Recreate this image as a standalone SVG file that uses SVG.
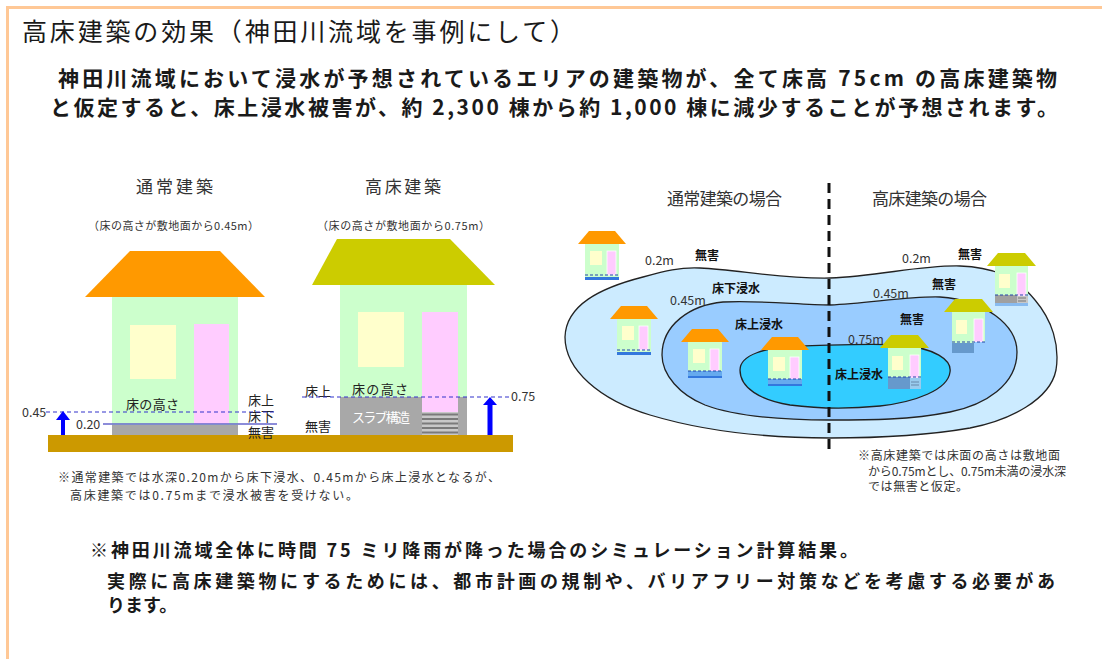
<svg xmlns="http://www.w3.org/2000/svg" width="1102" height="659" viewBox="0 0 1102 659">
  <style>
    text { font-family: "Noto Sans CJK JP", "Noto Sans", sans-serif; fill: #1a1a1a; }
    .title { font-size: 25px; }
    .lead { font-size: 21px; font-weight: bold; }
    .head { font-size: 17px; fill: #333; }
    .sub { font-size: 11px; fill: #333; }
    .lbl { font-size: 13px; fill: #222; }
    .num { font-size: 12.5px; fill: #333; }
    .note { font-size: 12px; fill: #333; }
    .zone { font-size: 12px; font-weight: bold; fill: #111; }
    .foot { font-size: 18px; font-weight: bold; }
    .wall { fill: #CCFFCC; }
    .win { fill: #FFFFCC; }
    .door { fill: #FFCCFF; }
    .slab { fill: #A8A8A8; }
    .roofO { fill: #FF9900; }
    .roofY { fill: #CCCC00; }
    .lvl { stroke: #3333CC; stroke-width: 1.2; stroke-dasharray: 4 3; fill: none; }
    .lvlS { stroke: #6666CC; stroke-width: 1.4; fill: none; }
    .contour { stroke: #222; stroke-width: 1.3; }
    .wl { stroke: #2244AA; stroke-width: 1.2; stroke-dasharray: 3 2; fill: none; }
  </style>

  <defs>
    <!-- small house, orange roof (ordinary floor) -->
    <g id="hutO">
      <polygon class="roofO" points="-7,0 41,0 30,-13 4,-13"/>
      <rect class="wall" x="0" y="0" width="34" height="35"/>
      <rect class="win" x="5" y="7" width="12" height="14"/>
      <rect class="door" x="22" y="7" width="9" height="24" stroke="#fff" stroke-width="0.8"/>
    </g>
    <!-- small house, olive roof (raised floor) -->
    <g id="hutY">
      <polygon class="roofY" points="-8,0 41,0 30,-13 3,-13"/>
      <rect class="wall" x="0" y="0" width="33" height="40"/>
      <rect class="win" x="4" y="8" width="11" height="14"/>
      <rect class="door" x="22" y="7" width="9" height="23" stroke="#fff" stroke-width="0.8"/>
    </g>
  </defs>

  <rect x="0" y="0" width="1102" height="659" fill="#fff"/>
  <!-- frame -->
  <path d="M7.5,659 V7.5 H1102" fill="none" stroke="#FFC896" stroke-width="3"/>

  <!-- heading and lead -->
  <text class="title" x="22" y="41" textLength="553" lengthAdjust="spacing">高床建築の効果（神田川流域を事例にして）</text>
  <text class="lead" x="58" y="86" textLength="999" lengthAdjust="spacing">神田川流域において浸水が予想されているエリアの建築物が、全て床高 75cm の高床建築物</text>
  <text class="lead" x="50" y="115" textLength="1008" lengthAdjust="spacing">と仮定すると、床上浸水被害が、約 2,300 棟から約 1,000 棟に減少することが予想されます。</text>

  <!-- cross-section: ground -->
  <rect id="ground" x="48" y="435" width="465" height="17" fill="#CC9900"/>

  <!-- ordinary building -->
  <g id="house-normal">
    <text class="head" x="136" y="193" textLength="77" lengthAdjust="spacing">通常建築</text>
    <text class="sub" x="88" y="230" textLength="171" lengthAdjust="spacing">（床の高さが敷地面から0.45m）</text>
    <polygon class="roofO" points="130,251 220,251 265,297 85,297"/>
    <rect class="wall" x="112" y="297" width="126" height="138"/>
    <rect class="win" x="130" y="325" width="46" height="54"/>
    <rect class="door" x="194" y="324" width="35" height="100"/>
    <rect class="slab" x="112" y="425" width="126" height="10"/>
    <text class="lbl" x="126" y="409" font-size="15" textLength="53" lengthAdjust="spacing">床の高さ</text>
    <text class="lbl" x="248" y="405" font-size="9.5">床上</text>
    <text class="lbl" x="248" y="421" font-size="9.5">床下</text>
    <text class="lbl" x="248" y="437" font-size="9.5">無害</text>
  </g>

  <!-- raised-floor building -->
  <g id="house-raised">
    <text class="head" x="365" y="193" textLength="76" lengthAdjust="spacing">高床建築</text>
    <text class="sub" x="317" y="230" textLength="173" lengthAdjust="spacing">（床の高さが敷地面から0.75m）</text>
    <polygon class="roofY" points="337,239 450,239 495,285 312,285"/>
    <rect class="wall" x="340" y="285" width="127" height="150"/>
    <rect class="win" x="358" y="312" width="46" height="55"/>
    <rect class="door" x="422" y="312" width="36" height="100"/>
    <rect class="slab" x="340" y="397" width="82" height="38"/>
    <rect class="slab" x="458" y="397" width="9" height="38"/>
    <rect x="422" y="412" width="36" height="23" fill="#C8C8C8"/>
    <g stroke="#7a7a7a" stroke-width="2">
      <line x1="422" y1="414.5" x2="458" y2="414.5"/>
      <line x1="422" y1="419" x2="458" y2="419"/>
      <line x1="422" y1="423.5" x2="458" y2="423.5"/>
      <line x1="422" y1="428" x2="458" y2="428"/>
      <line x1="422" y1="432.5" x2="458" y2="432.5"/>
    </g>
    <text x="352" y="422" font-size="13" style="fill:#fff" textLength="58" lengthAdjust="spacing">スラブ構造</text>
    <text class="lbl" x="352" y="394" font-size="16" textLength="56" lengthAdjust="spacing">床の高さ</text>
    <text class="lbl" x="305" y="396">床上</text>
    <text class="lbl" x="305" y="431">無害</text>
  </g>

  <!-- water level lines and rise arrows -->
  <g id="connectors">
    <line class="lvl" x1="46" y1="412" x2="276" y2="412"/>
    <line class="lvlS" x1="103" y1="424" x2="277" y2="424"/>
    <line class="lvl" x1="302" y1="397" x2="509" y2="397"/>
    <rect x="61" y="419" width="4" height="16" fill="#0000FF"/>
    <polygon points="56,420 70,420 63,411" fill="#0000FF"/>
    <rect x="487.5" y="404" width="5" height="31" fill="#0000FF"/>
    <polygon points="483,405 497,405 490,397" fill="#0000FF"/>
  </g>
  <text class="num" x="22" y="417">0.45</text>
  <text class="num" x="76" y="429">0.20</text>
  <text class="num" x="511" y="401">0.75</text>

  <text class="note" x="58" y="482" textLength="442" lengthAdjust="spacing">※通常建築では水深0.20mから床下浸水、0.45mから床上浸水となるが、</text>
  <text class="note" x="70" y="500" textLength="288" lengthAdjust="spacing">高床建築では0.75mまで浸水被害を受けない。</text>

  <!-- flood map -->
  <g id="flood-zones">
    <path id="zone-outer" class="contour" fill="#CCEBFF" d="M565,337 C566,305 600,288 643,277 C665,271 680,267 700,268 C740,270 780,279 830,278 C880,276 920,265 960,266 C990,267 1015,275 1035,300 C1052,320 1060,345 1056,370 C1050,400 1010,420 970,428 C930,435 880,438 830,438 C760,438 700,430 650,415 C600,400 565,370 565,337 Z"/>
    <path id="zone-middle" class="contour" fill="#99CCFF" d="M662,355 C662,325 690,305 723,302 C760,300 800,305 830,305 C870,303 910,296 940,297 C985,300 1017,325 1017,352 C1017,385 985,405 950,412 C910,420 870,420 830,420 C790,420 740,418 705,405 C680,395 662,375 662,355 Z"/>
    <path id="zone-inner" class="contour" fill="#33CCFF" d="M740,370 C740,355 765,347 800,346 C840,345 870,343 900,345 C935,348 952,360 950,372 C948,390 915,402 880,406 C850,409 820,409 790,405 C760,400 740,388 740,370 Z"/>
  </g>

  <text class="head" x="667" y="205" font-size="16" textLength="115" lengthAdjust="spacing">通常建築の場合</text>
  <text class="head" x="872" y="205" font-size="16" textLength="115" lengthAdjust="spacing">高床建築の場合</text>

  <!-- map labels -->
  <text class="num" x="645" y="265">0.2m</text>
  <text class="zone" x="695" y="260" font-size="11">無害</text>
  <text class="zone" x="712" y="293" font-size="11">床下浸水</text>
  <text class="num" x="670" y="305">0.45m</text>
  <text class="zone" x="735" y="329" font-size="13">床上浸水</text>
  <text class="num" x="902" y="263">0.2m</text>
  <text class="zone" x="958" y="259">無害</text>
  <text class="zone" x="932" y="289">無害</text>
  <text class="num" x="873" y="298">0.45m</text>
  <text class="zone" x="900" y="324">無害</text>
  <text class="num" x="848" y="344">0.75m</text>
  <text class="zone" x="835" y="379" font-size="13">床上浸水</text>

  <!-- small ordinary houses -->
  <g id="hut-a" transform="translate(585,244)">
    <use href="#hutO"/>
    <line class="wl" x1="0" y1="31" x2="34" y2="31"/>
    <rect x="0" y="33" width="34" height="3" fill="#3377DD"/>
  </g>
  <g id="hut-b" transform="translate(617,319)">
    <use href="#hutO"/>
    <line class="wl" x1="0" y1="31" x2="34" y2="31"/>
    <rect x="0" y="33" width="34" height="3" fill="#3377DD"/>
  </g>
  <g id="hut-c" transform="translate(688,342)">
    <use href="#hutO"/>
    <rect x="0" y="29" width="34" height="7" fill="#66AAEE"/>
    <line class="wl" x1="0" y1="29" x2="34" y2="29"/>
    <rect x="0" y="34" width="34" height="2" fill="#3377DD"/>
  </g>
  <g id="hut-d" transform="translate(768,350)">
    <use href="#hutO"/>
    <rect x="0" y="29" width="34" height="7" fill="#66AAEE"/>
    <line class="wl" x1="0" y1="29" x2="34" y2="29"/>
    <rect x="0" y="34" width="34" height="2" fill="#3377DD"/>
  </g>

  <!-- small raised-floor houses -->
  <g id="hut-e" transform="translate(995,266)">
    <use href="#hutY"/>
    <rect x="0" y="29" width="22" height="8" fill="#A0A0A0"/>
    <rect x="22" y="30" width="11" height="7" fill="#C8C8C8"/>
    <line x1="23" y1="32" x2="31" y2="32" stroke="#777" stroke-width="1"/>
    <line x1="23" y1="35" x2="31" y2="35" stroke="#777" stroke-width="1"/>
    <line class="wl" x1="0" y1="29" x2="33" y2="29"/>
    <rect x="0" y="37" width="33" height="3" fill="#88BBF0"/>
  </g>
  <g id="hut-f" transform="translate(952,312)">
    <use href="#hutY"/>
    <rect x="0" y="31" width="22" height="10" fill="#6699CC"/>
    <rect x="22" y="30" width="11" height="11" fill="#99CCFF"/>
    <line class="wl" x1="0" y1="30" x2="33" y2="30"/>
  </g>
  <g id="hut-g" transform="translate(888,348)">
    <use href="#hutY"/>
    <rect x="0" y="29" width="22" height="12" fill="#6699CC"/>
    <rect x="22" y="30" width="11" height="11" fill="#99CCEE"/>
    <line x1="23" y1="34" x2="31" y2="34" stroke="#6688AA" stroke-width="1"/>
    <line x1="23" y1="37" x2="31" y2="37" stroke="#6688AA" stroke-width="1"/>
    <line class="wl" x1="0" y1="29" x2="33" y2="29"/>
  </g>

  <!-- divider between the two cases -->
  <line x1="829" y1="183" x2="829" y2="451" stroke="#111" stroke-width="3" stroke-dasharray="10 6"/>

  <text class="note" x="858" y="460" font-size="10.5" textLength="202" lengthAdjust="spacing">※高床建築では床面の高さは敷地面</text>
  <text class="note" x="868" y="475.5" font-size="10.5" textLength="198" lengthAdjust="spacing">から0.75mとし、0.75m未満の浸水深</text>
  <text class="note" x="868" y="491" font-size="10.5" textLength="100" lengthAdjust="spacing">では無害と仮定。</text>

  <!-- footnotes -->
  <text class="foot" x="90" y="557" textLength="768" lengthAdjust="spacing">※神田川流域全体に時間 75 ミリ降雨が降った場合のシミュレーション計算結果。</text>
  <text class="foot" x="107" y="588" textLength="948" lengthAdjust="spacing">実際に高床建築物にするためには、都市計画の規制や、バリアフリー対策などを考慮する必要があ</text>
  <text class="foot" x="107" y="612">ります。</text>
</svg>
